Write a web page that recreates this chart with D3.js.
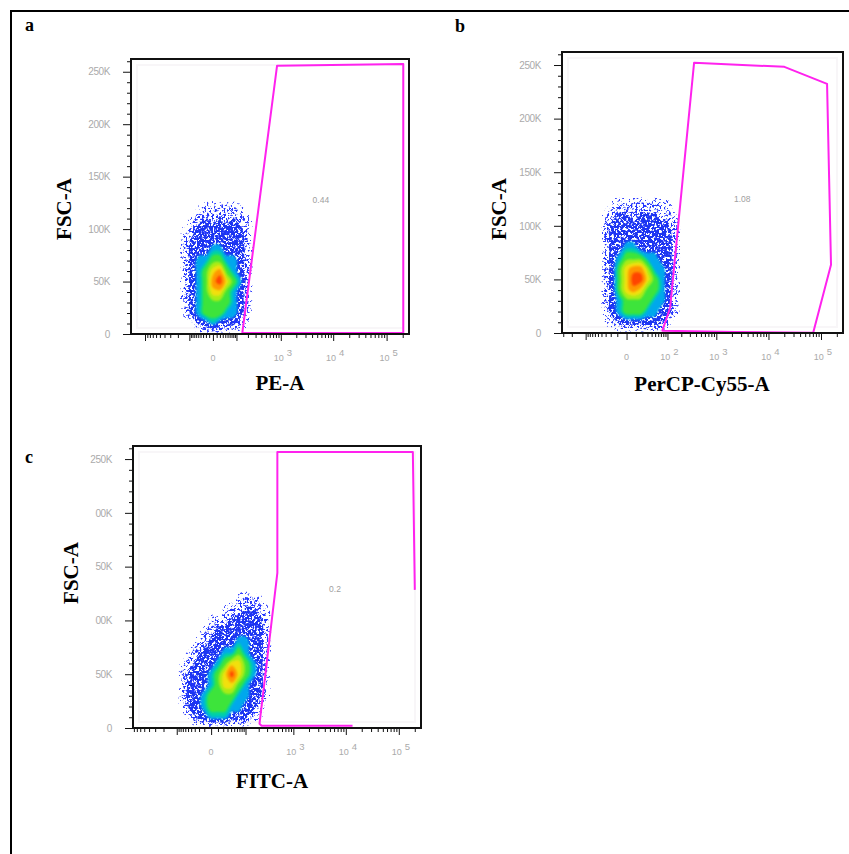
<!DOCTYPE html>
<html><head><meta charset="utf-8">
<script src="https://cdn.jsdelivr.net/npm/d3@7"></script>
<style>body{margin:0;background:#fff}svg{display:block}</style>
</head><body>
<svg id="chart" width="849" height="854"></svg>
<script>
// ---------------- DATA ----------------
const panelLetters = ["a", "b", "c"];
const xTitles = ["PE-A", "PerCP-Cy55-A", "FITC-A"];
const yTitle = "FSC-A";
const gateLabels = ["0.44", "1.08", "0.2"];
const gateLabelPos = [[5870, 127700], [3150, 125200], [6250, 129400]];

const yMajorTicks = [0, 50000, 100000, 150000, 200000, 250000];
const yLabelsA = ["0", "50K", "100K", "150K", "200K", "250K"];
const yLabelsB = ["0", "50K", "100K", "150K", "200K", "250K"];
const yLabelsC = ["0", "50K", "00K", "50K", "00K", "250K"];
const yMinorTicks = [10000,20000,30000,40000,60000,70000,80000,90000,110000,120000,130000,140000,160000,170000,180000,190000,210000,220000,230000,240000,260000];

const xMajorTicks = [-1000, -100, 0, 100, 1000, 10000, 100000];
const xMinorTicks = [-900,-800,-700,-600,-500,-400,-300,-200,-90,-80,-70,-60,-50,-40,-30,-20,-10,
  10,20,30,40,50,60,70,80,90,200,300,400,500,600,700,800,900,
  2000,3000,4000,5000,6000,7000,8000,9000,20000,30000,40000,50000,60000,70000,80000,90000,200000];
const xLabelsA = [["0", null], ["10", "3"], ["10", "4"], ["10", "5"]];
const xLabelValsA = [0, 1000, 10000, 100000];
const xLabelsB = [["0", null], ["10", "2"], ["10", "3"], ["10", "4"], ["10", "5"]];
const xLabelValsB = [0, 100, 1000, 10000, 100000];
const xLabelsC = [["0", null], ["10", "3"], ["10", "4"], ["10", "5"]];
const xLabelValsC = [0, 1000, 10000, 100000];

// density grids (levels), rows from top (130K) to bottom (0)
const densRows = [130000,120000,110000,100000,90000,80000,70000,60000,50000,40000,30000,20000,10000,0];
const densColsA = [-200,-130,-80,-45,-20,0,20,45,80,130,200,285];
const densA = [
 [0,0,0,0,0,0,0,0,0,0,0,0],
 [0,0,0,0.45,0.8,0.9,0.9,0.9,0.8,0.5,0,0],
 [0,0,0.6,1,1.6,1,1.7,1,1.6,1,0.6,0],
 [0,0.6,1,2,2,2,2,2,2,1.7,1,0],
 [0,0.9,1.8,2,2,2,2,2,2,2,1,0],
 [0,1,2,2,2,3,3,2,2,2,1,0],
 [0,1,2,3,3,4,4,3,3,2,1,0],
 [0,1,2,3,4,5,5.5,4,3,2,0.9,0],
 [0,1,2,3,4,5.5,6,5,4,2.8,0.9,0],
 [0,1,2,3,4,5,5,4,3,2,0.9,0],
 [0,1,2,3,4,4,4,4,3,2,0.8,0],
 [0,0.8,2,3,4,4,4,3,3,2,0.7,0],
 [0,0,0.7,1.8,2,3,2,2,1.8,0.9,0.4,0],
 [0,0,0,0,0,0,0,0,0,0,0,0]
];
const densColsB = [-45,-30,-17,-7,0,7,17,30,48,72,104,148,208];
const densB = [
 [0,0,0,0,0,0,0,0,0,0,0,0,0],
 [0,0,0.6,0.8,0.9,0.8,0.9,0.9,0.8,0.7,0.5,0,0],
 [0,0.7,1,1.7,1.7,1,1.7,1.7,1.6,1,1,0.6,0],
 [0,1,2,2,2,2,2,2,2,2,1.7,1,0],
 [0,1,2,2,2,2,2,2,2,2,2,1,0],
 [0,1,2,2,3,3,2,2,2,2,2,1,0],
 [0,1,2,3,4,4,4,3,3,2,2,1,0],
 [0,1,2,4,5,5.5,5.5,4.5,3,3,2,1,0],
 [0,1,2,4,5,6,6,5,4,3,2,1,0],
 [0,1,2,4,5,5.5,5,4,4,3,2,1,0],
 [0,1,2,3,4,4,4,4,3,3,2,1,0],
 [0,1,2,3,4,4,4,3,3,2,2,0.8,0],
 [0,0.4,0.9,1.8,2,2,2,2,2,1.7,0.9,0,0],
 [0,0,0,0,0,0,0,0,0,0,0,0,0]
];
const densColsC = [-101,-67,-42,-24,-10,0,10,24,42,67,101,147,208,292,404];
const densC = [
 [0,0,0,0,0,0,0,0,0,0,0,0,0,0,0],
 [0,0,0,0,0,0,0,0,0,0.6,0.9,0.9,0.6,0,0],
 [0,0,0,0,0,0,0,0.6,0.9,1,1.7,1.7,1,0.6,0],
 [0,0,0,0,0,0.7,1,1,2,2,2,2,2,1,0],
 [0,0,0,0,0.7,1,2,2,2,2,2,2,2,1,0],
 [0,0,0,0.7,1,2,2,2,2,3,3,2,2,1,0],
 [0,0,0.7,1,2,2,2,3,3,4,3,2,2,1,0],
 [0,0.7,1,2,2,2,3,4,5,5,4,3,2,0.9,0],
 [0,0.9,2,2,2,3,4,5,6,5,4,3,2,0.8,0],
 [0,1,2,2,2,3,4,5,5,4,3,2,2,0.7,0],
 [0,1,2,2,3,4,4,4,4,3,3,2,1.7,0.6,0],
 [0,0.8,2,2,3,4,4,4,3,3,2,2,1,0,0],
 [0,0,0.7,1.8,2,3,3,3,2,2,1.7,0.8,0.5,0,0],
 [0,0,0,0,0,0,0,0,0,0,0,0,0,0,0]
];
const densThresholds = [0.3, 0.75, 1.5, 2.5, 3.1, 3.5, 4.2, 4.7, 5.2, 5.7];
const densColors = ["#3040ff", "#2236ff", "#1a34f0", "#00a8ec", "#00d2a6", "#3ce43a", "#a8ec18", "#f2e010", "#ff9800", "#ff4400"];

// gates (data units: x = fluorescence, y = FSC-A)
const gateA = [[145,1000],[843,255800],[205000,257400],[205000,1000]];
const gateB = [[76,2150],[115,23600],[365,252000],[20080,248300],[130400,232400],[155000,63700],[71000,300],[2360,900]];
const gateC = [[13400,2100],[230,2100],[208,4000],[485,144200],[485,256600],[184000,256600],[200400,128400]];

// ---------------- LAYOUT ----------------
const panels = [
  {id:"a", x0:131, x1:409, y0:59, y1:334, c:57, xmin:-1874, dens:densA, cols:densColsA, gate:gateA, closed:true,
   xLabels:xLabelsA, xLabelVals:xLabelValsA, yLabels:yLabelsA, letter:[25,31], xTitle:[280,390], yTitle:[71,209]},
  {id:"b", x0:562, x1:843, y0:52, y1:333, c:20, xmin:-318, dens:densB, cols:densColsB, gate:gateB, closed:true,
   xLabels:xLabelsB, xLabelVals:xLabelValsB, yLabels:yLabelsB, letter:[455,32], xTitle:[702,391], yTitle:[506,209]},
  {id:"c", x0:133, x1:421, y0:446, y1:728, c:29, xmin:-832, dens:densC, cols:densColsC, gate:gateC, closed:false,
   xLabels:xLabelsC, xLabelVals:xLabelValsC, yLabels:yLabelsC, letter:[25,463], xTitle:[272,788], yTitle:[78,573]}
];

const svg = d3.select("#chart");
const defs = svg.append("defs");
function speck(id, offset, seed) {
  const f = defs.append("filter").attr("id", id).attr("x", "-10%").attr("y", "-10%").attr("width", "120%").attr("height", "120%");
  f.append("feTurbulence").attr("type", "fractalNoise").attr("baseFrequency", "0.42").attr("numOctaves", 2).attr("seed", seed).attr("result", "n");
  f.append("feColorMatrix").attr("in", "n").attr("type", "matrix")
    .attr("values", `0 0 0 0 0  0 0 0 0 0  0 0 0 0 0  14 0 0 0 ${offset}`).attr("result", "m");
  f.append("feComposite").attr("in", "SourceGraphic").attr("in2", "m").attr("operator", "in");
}
speck("sp0", -8.6, 2);
speck("sp1", -7.6, 4);
speck("sp2", -6.0, 9);
defs.append("filter").attr("id", "soft").attr("x", "-20%").attr("y", "-20%").attr("width", "140%").attr("height", "140%")
  .append("feGaussianBlur").attr("stdDeviation", 1.3);
const levelFilter = ["url(#sp0)", "url(#sp1)", "url(#sp2)"];

// outer figure border
svg.append("path").attr("d", "M11,854V11H849").attr("fill", "none").attr("stroke", "#000").attr("stroke-width", 2);

const serif = "'Liberation Serif','Times New Roman',serif";
const sans = "'Liberation Sans',Arial,sans-serif";

panels.forEach((p, pi) => {
  const g = svg.append("g");
  const x = d3.scaleSymlog().constant(p.c).domain([p.xmin, 262144]).range([p.x0, p.x1]);
  const y = d3.scaleLinear().domain([0, 262144]).range([p.y1, p.y0]);

  defs.append("clipPath").attr("id", "clip" + p.id).append("rect")
    .attr("x", p.x0).attr("y", p.y0).attr("width", p.x1 - p.x0).attr("height", p.y1 - p.y0);
  const plot = g.append("g").attr("clip-path", `url(#clip${p.id})`);
  plot.append("rect").attr("x", p.x0).attr("y", p.y0).attr("width", p.x1 - p.x0).attr("height", p.y1 - p.y0).attr("fill", "#fff");
  plot.append("rect").attr("x", p.x0 + 6).attr("y", p.y0 + 6).attr("width", p.x1 - p.x0 - 12).attr("height", p.y1 - p.y0 - 12)
    .attr("fill", "none").attr("stroke", "#f8f6f8").attr("stroke-width", 2);

  // density contours
  const n = p.cols.length, m = densRows.length;
  const colPx = p.cols.map(v => x(v)), rowPx = densRows.map(v => y(v));
  const interp = (arr, gc) => {
    let i = Math.max(0, Math.min(arr.length - 1.0001, gc - 0.5));
    const i0 = Math.floor(i), t = i - i0;
    return arr[i0] * (1 - t) + arr[i0 + 1] * t;
  };
  const contours = d3.contours().size([n, m]).thresholds(densThresholds).smooth(true)(p.dens.flat());
  const ringLine = d3.line().curve(d3.curveCatmullRomClosed.alpha(0.5));
  contours.forEach((ct, li) => {
    let dstr = "";
    ct.coordinates.forEach(poly => poly.forEach(ring => {
      const pts = ring.slice(0, -1).map(([gx, gy]) => [interp(colPx, gx), interp(rowPx, gy)]);
      if (pts.length > 2) dstr += ringLine(pts);
    }));
    if (!dstr) return;
    plot.append("path").attr("d", dstr).attr("fill", densColors[li]).attr("fill-rule", "evenodd")
      .attr("filter", levelFilter[li] || "url(#soft)");
  });

  // gate
  const gl = d3.line().x(d => x(d[0])).y(d => y(d[1]));
  plot.append("path").attr("d", gl(p.gate) + (p.closed ? "Z" : ""))
    .attr("fill", "none").attr("stroke", "#ff22ee").attr("stroke-width", 2).attr("stroke-linejoin", "round");
  g.append("text").attr("x", x(gateLabelPos[pi][0])).attr("y", y(gateLabelPos[pi][1]) + 3)
    .attr("text-anchor", "middle").attr("font-family", sans).attr("font-size", 8.5).attr("fill", "#a0a0a0")
    .text(gateLabels[pi]);

  // frame
  g.append("rect").attr("x", p.x0).attr("y", p.y0).attr("width", p.x1 - p.x0).attr("height", p.y1 - p.y0)
    .attr("fill", "none").attr("stroke", "#111").attr("stroke-width", 2);

  // y axis
  const ya = g.append("g").attr("transform", `translate(${p.x0 - 1},0)`)
    .call(d3.axisLeft(y).tickValues(yMinorTicks).tickSize(3).tickFormat(""));
  ya.select(".domain").remove();
  const yb = g.append("g").attr("transform", `translate(${p.x0 - 1},0)`)
    .call(d3.axisLeft(y).tickValues(yMajorTicks).tickSize(7).tickPadding(13).tickFormat((d, i) => p.yLabels[i]));
  yb.select(".domain").remove();
  yb.selectAll("text").attr("font-family", sans).attr("font-size", 10).attr("fill", "#aaa").attr("letter-spacing", "-0.4");

  // x axis
  const inDom = v => v >= p.xmin && v <= 262144;
  const xa = g.append("g").attr("transform", `translate(0,${p.y1 + 1})`)
    .call(d3.axisBottom(x).tickValues(xMinorTicks.filter(inDom)).tickSize(3).tickFormat(""));
  xa.select(".domain").remove();
  const xb = g.append("g").attr("transform", `translate(0,${p.y1 + 1})`)
    .call(d3.axisBottom(x).tickValues(xMajorTicks.filter(inDom)).tickSize(6).tickFormat(""));
  xb.select(".domain").remove();
  g.selectAll(".tick line").attr("stroke", "#111");

  p.xLabelVals.forEach((v, i) => {
    const [base, ex] = p.xLabels[i];
    const t = g.append("text").attr("x", x(v) + (ex ? 2 : 0)).attr("y", p.y1 + 27).attr("text-anchor", "middle")
      .attr("font-family", sans).attr("fill", "#aaa");
    t.append("tspan").attr("font-size", 9).text(base);
    if (ex) t.append("tspan").attr("font-size", 9.5).attr("dx", 3).attr("dy", -5).text(ex);
  });

  // titles
  g.append("text").attr("x", p.xTitle[0]).attr("y", p.xTitle[1]).attr("text-anchor", "middle")
    .attr("font-family", serif).attr("font-weight", "bold").attr("font-size", 21).attr("fill", "#000").text(xTitles[pi]);
  g.append("text").attr("transform", `translate(${p.yTitle[0]},${p.yTitle[1]}) rotate(-90)`).attr("text-anchor", "middle")
    .attr("font-family", serif).attr("font-weight", "bold").attr("font-size", 21).attr("fill", "#000").text(yTitle);
  g.append("text").attr("x", p.letter[0]).attr("y", p.letter[1])
    .attr("font-family", serif).attr("font-weight", "bold").attr("font-size", 18).attr("fill", "#000").text(panelLetters[pi]);
});
</script>
</body></html>
